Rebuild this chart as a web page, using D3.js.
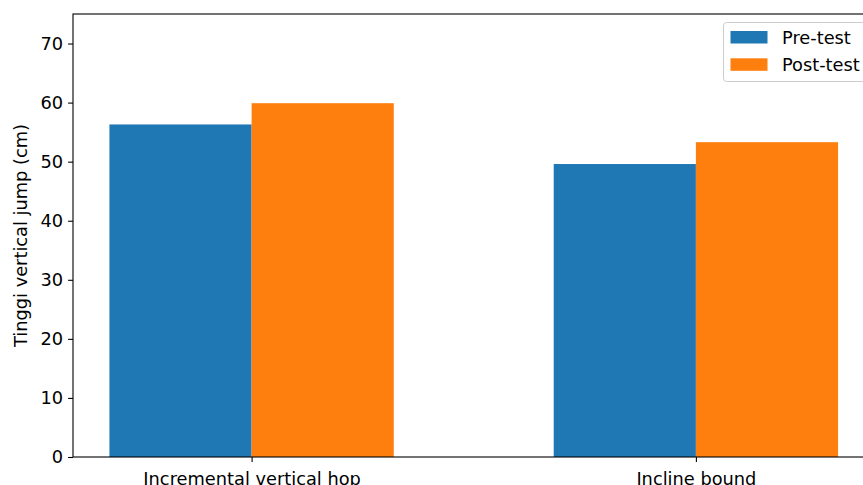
<!DOCTYPE html>
<html>
<head>
<meta charset="utf-8">
<script src="https://cdn.jsdelivr.net/npm/d3@7"></script>
<style>
  body { margin: 0; background: #fff; }
  svg { display: block; font-family: "DejaVu Sans", sans-serif; }
</style>
</head>
<body>
<div id="chart"></div>
<script>
  var categories = ['Incremental vertical hop', 'Incline bound'];
  var seriesNames = ['Pre-test', 'Post-test'];
  var preTest = [56.3, 49.6];
  var postTest = [59.9, 53.3];
  var yTicks = [0, 10, 20, 30, 40, 50, 60, 70];
  var colors = ['#1f77b4', '#ff7f0e'];

  (function() {
    var w = 863;
    var h = 485;
    var padLeft = 73, padTop = 14, axisBottom = 457, axisRight = 874.5;
    var barWidth = 0.32;
    var fontSize = '17.8px';

    var svg = d3.select('#chart').append('svg').attr('width', w).attr('height', h);

    var x = d3.scaleLinear().domain([-0.402, 1.402]).range([padLeft, axisRight]);
    var y = d3.scaleLinear().domain([0, 75]).range([axisBottom, padTop]);

    var series = [preTest, postTest];

    // bars
    series.forEach(function(values, s) {
      svg.append('g').selectAll('rect')
        .data(values)
        .enter()
        .append('rect')
        .attr('x', function(d, i) { return x(i + (s - 1) * barWidth); })
        .attr('width', function(d, i) { return x(i + s * barWidth) - x(i + (s - 1) * barWidth); })
        .attr('y', function(d) { return y(d); })
        .attr('height', function(d) { return y(0) - y(d); })
        .attr('fill', colors[s]);
    });

    // axes
    var yAxis = svg.append('g').attr('transform', 'translate(' + padLeft + ',0)')
      .call(d3.axisLeft(y).tickValues(yTicks).tickSize(4.9).tickPadding(5));
    var xAxis = svg.append('g').attr('transform', 'translate(0,' + axisBottom + ')')
      .call(d3.axisBottom(x).tickValues([0, 1]).tickFormat(function(d) { return categories[d]; })
        .tickSize(4.9).tickPadding(10));

    [yAxis, xAxis].forEach(function(a) {
      a.select('.domain').remove();
      a.selectAll('line').attr('stroke', '#000').attr('stroke-width', 1.1);
      a.selectAll('text').attr('fill', '#000').style('font-size', fontSize)
        .style('font-family', '"DejaVu Sans", sans-serif');
    });

    // spines
    svg.append('rect')
      .attr('x', padLeft).attr('y', padTop)
      .attr('width', axisRight - padLeft).attr('height', axisBottom - padTop)
      .attr('fill', 'none').attr('stroke', '#000').attr('stroke-width', 1.1);

    // y label
    svg.append('text')
      .attr('transform', 'translate(27,' + ((padTop + axisBottom) / 2) + ') rotate(-90)')
      .attr('text-anchor', 'middle')
      .style('font-size', fontSize)
      .text('Tinggi vertical jump (cm)');

    // legend
    var legend = svg.append('g');
    legend.append('rect')
      .attr('x', 723.5).attr('y', 22.5).attr('width', 145).attr('height', 59)
      .attr('rx', 3).attr('fill', '#fff').attr('fill-opacity', 0.8)
      .attr('stroke', '#cccccc').attr('stroke-width', 1);
    var items = legend.selectAll('g.item')
      .data(seriesNames)
      .enter()
      .append('g')
      .attr('class', 'item')
      .attr('transform', function(d, i) { return 'translate(0,' + (i * 27.3) + ')'; });
    items.append('rect')
      .attr('x', 730.5).attr('y', 31).attr('width', 37).attr('height', 12.5)
      .attr('fill', function(d, i) { return colors[i]; });
    items.append('text')
      .attr('x', 782).attr('y', 44)
      .style('font-size', fontSize)
      .text(function(d) { return d; });
  })();
</script>
</body>
</html>
